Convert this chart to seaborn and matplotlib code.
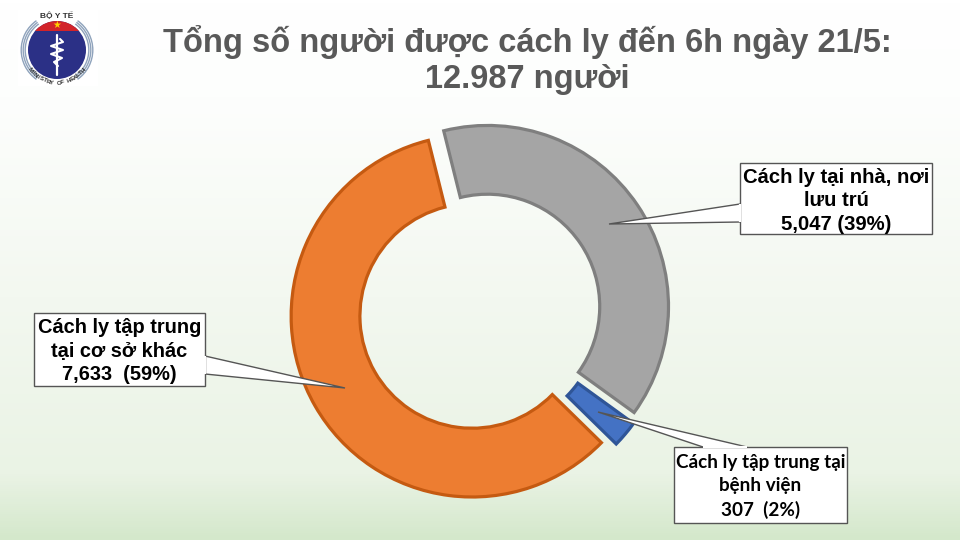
import numpy as np
import pandas as pd
import matplotlib
matplotlib.use('Agg')
import matplotlib.pyplot as plt
import seaborn as sns
from matplotlib.colors import LinearSegmentedColormap
from matplotlib.patches import Circle, Wedge, Polygon, Rectangle

# data
categories = ['Cách ly tại nhà, nơi lưu trú', 'Cách ly tập trung tại bệnh viện', 'Cách ly tập trung tại cơ sở khác']
people = [5047, 307, 7633]
fill_colors = ['#A5A5A5', '#4472C4', '#ED7D31']
edge_colors = ['#7F7F7F', '#2F5597', '#C55A11']
title_lines = 'Tổng số người được cách ly đến 6h ngày 21/5:\n12.987 người'
label_gray = 'Cách ly tại nhà, nơi\nlưu trú\n5,047 (39%)'
label_blue = 'Cách ly tập trung tại\nbệnh viện\n307  (2%)'
label_orange = 'Cách ly tập trung\ntại cơ sở khác\n7,633  (59%)'

df = pd.DataFrame({'category': categories, 'people': people})

sns.set_theme(style='white')
plt.rcParams['font.family'] = ['Liberation Sans', 'DejaVu Sans']

fig = plt.figure(figsize=(9.6, 5.4), dpi=100)

# background in pixel coordinates
bg = fig.add_axes([0, 0, 1, 1], zorder=0)
bg.axis('off')
cmap = LinearSegmentedColormap.from_list('bg', [
    (0.0, '#FFFFFF'), (0.18, '#FDFEFD'), (0.55, '#F3F8F0'),
    (0.88, '#EAF3E5'), (1.0, '#D4E8CB')])
bg.imshow(np.linspace(0, 1, 540).reshape(-1, 1), cmap=cmap, aspect='auto',
          extent=(0, 960, 540, 0), zorder=0)
bg.set_xlim(0, 960)
bg.set_ylim(540, 0)

# donut
cx, cy, unit = 480, 311.5, 181
span = 1.3
ax = fig.add_axes([(cx - span * unit) / 960, 1 - (cy + span * unit) / 540,
                   2 * span * unit / 960, 2 * span * unit / 540], zorder=1)
wedges, _ = ax.pie(df['people'], colors=fill_colors, startangle=90 + 14, counterclock=False,
                   explode=[0.05, 0.05, 0.05], radius=1,
                   wedgeprops=dict(width=0.38, linewidth=2.3, joinstyle='miter'))
for w, ec in zip(wedges, edge_colors):
    w.set_edgecolor(ec)
ax.set_xlim(-span, span)
ax.set_ylim(-span, span)

# callouts and logo on top
top = fig.add_axes([0, 0, 1, 1], zorder=2)
top.set_xlim(0, 960)
top.set_ylim(540, 0)
top.axis('off')
top.patch.set_alpha(0)


def callout(box, tip, base1, base2, text, family, size, spacing, dy):
    x0, y0, x1, y1 = box
    top.add_patch(Polygon([base1, tip, base2], closed=True, fc='white', ec='#555555', lw=1.0, zorder=3))
    top.add_patch(Rectangle((x0, y0), x1 - x0, y1 - y0, fc='white', ec='#555555', lw=1.0, zorder=4))
    # hide the callout seam
    top.plot([base1[0], base2[0]], [base1[1], base2[1]], color='white', lw=1.6, zorder=5,
             solid_capstyle='butt')
    top.text((x0 + x1) / 2, (y0 + y1) / 2 + dy, text, ha='center', va='center', family=family,
             fontsize=size, fontweight='bold', color='black', linespacing=spacing, zorder=6)


callout((740, 163, 932, 234), (609, 224), (740, 204), (740, 222), label_gray,
        ['Liberation Sans', 'DejaVu Sans'], 14.6, 1.27, 2.5)
callout((34, 313, 205, 386), (345, 388), (205, 356), (205, 374), label_orange,
        ['Liberation Sans', 'DejaVu Sans'], 14.4, 1.27, 1.5)
callout((674, 447, 847, 523), (598, 412), (703, 447), (747, 447), label_blue,
        ['Lato', 'Noto Sans', 'DejaVu Sans'], 13.6, 1.42, 1.5)

# title
top.text(527, 60, title_lines, ha='center', va='center', fontsize=23.5, fontweight='bold',
         color='#595959', linespacing=1.17)

# logo
lx, ly = 57, 50
top.add_patch(Rectangle((18, 10), 80, 76, fc='white', ec='none', zorder=1))
for r in (31.5, 33.5, 35.5):
    top.add_patch(Wedge((lx, ly), r + 1, 125, 235, width=1.4, fc='#8FA3BC', ec='none', zorder=2))
    top.add_patch(Wedge((lx, ly), r + 1, -55, 55, width=1.4, fc='#8FA3BC', ec='none', zorder=2))
disc = Circle((lx, ly), 29, fc='#2B3086', ec='none', zorder=2)
top.add_patch(disc)
red = Rectangle((lx - 30, ly - 30), 60, 11, fc='#D2232A', ec='none', zorder=3)
top.add_patch(red)
red.set_clip_path(disc)
top.text(lx, ly - 25.5, '★', ha='center', va='center', fontsize=7, color='#FFD200',
         family='DejaVu Sans', zorder=4)
top.plot([lx, lx], [ly - 15, ly + 25], color='white', lw=1.6, zorder=4)
snake_y = np.array([-11, -8, -4, 0, 4, 8, 12, 16])
snake_x = np.array([3, 6, -6, 6, -6, 5, -3, 1])
top.plot(lx + snake_x, ly + snake_y, color='white', lw=1.5, zorder=4)
top.text(lx, 16.5, 'BỘ Y TẾ', ha='center', va='center', fontsize=6, fontweight='bold',
         color='#333333', zorder=4)
arc_text = 'MINISTRY OF HEALTH'
for i, ch in enumerate(arc_text):
    a = np.deg2rad(143 - i * (106 / (len(arc_text) - 1)))
    px = lx + 33 * np.cos(a)
    py = ly + 33 * np.sin(a)
    top.text(px, py, ch, ha='center', va='center', fontsize=4.4, fontweight='bold',
             rotation=90 - np.rad2deg(a), color='#333333', zorder=4)

fig.savefig('out.png', dpi=100)
